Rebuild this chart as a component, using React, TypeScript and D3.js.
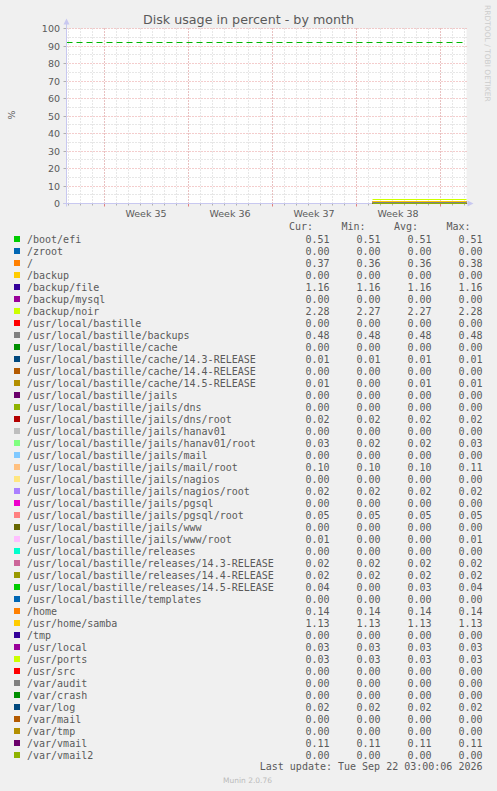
import React from "react";
import * as d3 from "d3";

// --- chart data ---
const LABELS = [
  "/boot/efi", "/zroot", "/", "/backup", "/backup/file", "/backup/mysql", "/backup/noir",
  "/usr/local/bastille", "/usr/local/bastille/backups", "/usr/local/bastille/cache",
  "/usr/local/bastille/cache/14.3-RELEASE", "/usr/local/bastille/cache/14.4-RELEASE",
  "/usr/local/bastille/cache/14.5-RELEASE", "/usr/local/bastille/jails",
  "/usr/local/bastille/jails/dns", "/usr/local/bastille/jails/dns/root",
  "/usr/local/bastille/jails/hanav01", "/usr/local/bastille/jails/hanav01/root",
  "/usr/local/bastille/jails/mail", "/usr/local/bastille/jails/mail/root",
  "/usr/local/bastille/jails/nagios", "/usr/local/bastille/jails/nagios/root",
  "/usr/local/bastille/jails/pgsql", "/usr/local/bastille/jails/pgsql/root",
  "/usr/local/bastille/jails/www", "/usr/local/bastille/jails/www/root",
  "/usr/local/bastille/releases", "/usr/local/bastille/releases/14.3-RELEASE",
  "/usr/local/bastille/releases/14.4-RELEASE", "/usr/local/bastille/releases/14.5-RELEASE",
  "/usr/local/bastille/templates", "/home", "/usr/home/samba", "/tmp", "/usr/local",
  "/usr/ports", "/usr/src", "/var/audit", "/var/crash", "/var/log", "/var/mail",
  "/var/tmp", "/var/vmail", "/var/vmail2",
];
const CUR = [0.51, 0, 0.37, 0, 1.16, 0, 2.28, 0, 0.48, 0, 0.01, 0, 0.01, 0, 0, 0.02, 0, 0.03, 0, 0.1, 0, 0.02, 0, 0.05, 0, 0.01, 0, 0.02, 0.02, 0.04, 0, 0.14, 1.13, 0, 0.03, 0.03, 0, 0, 0, 0.02, 0, 0, 0.11, 0];
const MIN = [0.51, 0, 0.36, 0, 1.16, 0, 2.27, 0, 0.48, 0, 0.01, 0, 0, 0, 0, 0.02, 0, 0.02, 0, 0.1, 0, 0.02, 0, 0.05, 0, 0, 0, 0.02, 0.02, 0, 0, 0.14, 1.13, 0, 0.03, 0.03, 0, 0, 0, 0.02, 0, 0, 0.11, 0];
const AVG = [0.51, 0, 0.36, 0, 1.16, 0, 2.27, 0, 0.48, 0, 0.01, 0, 0.01, 0, 0, 0.02, 0, 0.02, 0, 0.1, 0, 0.02, 0, 0.05, 0, 0, 0, 0.02, 0.02, 0.03, 0, 0.14, 1.13, 0, 0.03, 0.03, 0, 0, 0, 0.02, 0, 0, 0.11, 0];
const MAX = [0.51, 0, 0.38, 0, 1.16, 0, 2.28, 0, 0.48, 0, 0.01, 0, 0.01, 0, 0, 0.02, 0, 0.03, 0, 0.11, 0, 0.02, 0, 0.05, 0, 0.01, 0, 0.02, 0.02, 0.04, 0, 0.14, 1.13, 0, 0.03, 0.03, 0, 0, 0, 0.02, 0, 0, 0.11, 0];
const PALETTE = [
  "#00CC00", "#0066B3", "#FF8000", "#FFCC00", "#330099", "#990099", "#CCFF00", "#FF0000",
  "#808080", "#008F00", "#00487D", "#B35A00", "#B38F00", "#6B006B", "#8FB300", "#B30000",
  "#BEBEBE", "#80FF80", "#80C9FF", "#FFC080", "#FFE680", "#AA80FF", "#EE00CC", "#FF8080",
  "#666600", "#FFBFFF", "#00FFCC", "#CC6699", "#999900",
];
const WARNING = 92;
const Y_TICKS = [0, 10, 20, 30, 40, 50, 60, 70, 80, 90, 100];
const DATA_START = new Date(Date.UTC(2026, 8, 15, 8, 0));
const DATA_END = new Date(Date.UTC(2026, 8, 23, 5, 0));
const GRAPH_END = new Date(Date.UTC(2026, 8, 23, 5, 0));
const LAST_UPDATE = "Last update: Tue Sep 22 03:00:06 2026";

const W = 497;
const H = 791;
const PL = 66.5;
const PR = 466.5;
const PT = 28.5;
const PB = 203.5;
const ROW0 = 239;
const ROWH = 12;
const SANS = "DejaVu Sans, sans-serif";
const MONO = "DejaVu Sans Mono, monospace";
const TXT = "#5A5A5A";
const AXIS = "#C8C8F0";

export default function App() {
  const start = new Date(GRAPH_END.getTime() - (400 / 12) * 86400000);
  const x = d3.scaleUtc().domain([start, GRAPH_END]).range([PL, PR]);
  const y = d3.scaleLinear().domain([0, 100]).range([PB, PT]);
  const snap = (v: number) => Math.round(v - 0.5) + 0.5;

  const days = d3.utcDay.range(d3.utcDay.ceil(start), GRAPH_END);
  const mondays = d3.utcMonday.range(d3.utcMonday.ceil(start), GRAPH_END);
  const weekLabels = d3.utcMonday
    .range(d3.utcMonday.floor(start), GRAPH_END)
    .map((m) => ({ m, cx: x(new Date(m.getTime() + 3.5 * 86400000)) }))
    .filter((d) => d.cx > PL && d.cx < PR);
  const minorY = d3.range(5, 100, 10);

  const line = d3
    .line<{ t: Date; v: number }>()
    .x((d) => snap(x(d.t)))
    .y((d) => snap(y(d.v)));
  const color = (i: number) => PALETTE[i % PALETTE.length];
  const cols = [
    { head: "Cur:", hx: 289, vx: 329.5, vals: CUR },
    { head: "Min:", hx: 341.5, vx: 380.5, vals: MIN },
    { head: "Avg:", hx: 394, vx: 431.5, vals: AVG },
    { head: "Max:", hx: 446.5, vx: 482.5, vals: MAX },
  ];

  return (
    <svg
      width={W}
      height={H}
      style={{ position: "absolute", left: 0, top: 0, display: "block" }}
    >
      <rect width={W} height={H} fill="#F0F0F0" />
      <rect x={PL} y={PT} width={PR - PL} height={PB - PT} fill="#FFFFFF" />

      {/* minor grid */}
      {days.map((d, i) => (
        <line key={"vd" + i} x1={snap(x(d))} x2={snap(x(d))} y1={PT} y2={PB}
          stroke="#CFCFCF" strokeDasharray="1,2" />
      ))}
      {minorY.map((v) => (
        <line key={"hm" + v} x1={PL} x2={PR} y1={snap(y(v))} y2={snap(y(v))}
          stroke="#CFCFCF" strokeDasharray="1,2" />
      ))}
      {/* major grid */}
      {mondays.map((d, i) => (
        <line key={"vm" + i} x1={snap(x(d))} x2={snap(x(d))} y1={PT} y2={PB}
          stroke="#E89A9A" strokeDasharray="1,2" />
      ))}
      {Y_TICKS.map((v) => (
        <line key={"hM" + v} x1={PL} x2={PR} y1={snap(y(v))} y2={snap(y(v))}
          stroke="#E89A9A" strokeDasharray="1,2" />
      ))}

      {/* warning rule */}
      <line x1={PL} x2={PR} y1={snap(y(WARNING))} y2={snap(y(WARNING))}
        stroke="#00B800" strokeDasharray="6,4" strokeWidth={1.2} />

      {/* axes */}
      {days.map((d, i) => (
        <line key={"td" + i} x1={snap(x(d))} x2={snap(x(d))} y1={PB} y2={PB + 2} stroke="#B0B0B0" />
      ))}
      {mondays.map((d, i) => (
        <line key={"tm" + i} x1={snap(x(d))} x2={snap(x(d))} y1={PB} y2={PB + 3} stroke="#E08080" />
      ))}
      {Y_TICKS.map((v) => (
        <line key={"ty" + v} x1={PL - 3} x2={PL} y1={snap(y(v))} y2={snap(y(v))} stroke="#B0B0B0" />
      ))}
      <line x1={PL} x2={PL} y1={PB + 3} y2={PT - 6} stroke={AXIS} />
      <path d={`M${PL - 3},${PT - 4} L${PL},${PT - 10} L${PL + 3},${PT - 4} Z`} fill={AXIS} />
      <line x1={PL - 3} x2={PR + 3} y1={PB} y2={PB} stroke={AXIS} />
      <path d={`M${PR + 1},${PB - 3} L${PR + 7},${PB} L${PR + 1},${PB + 3} Z`} fill={AXIS} />

      {/* series */}
      {LABELS.map((_, i) => (
        <path
          key={"s" + i}
          d={line([{ t: DATA_START, v: AVG[i] }, { t: DATA_END, v: CUR[i] }]) || ""}
          fill="none"
          stroke={color(i)}
          strokeWidth={1}
        />
      ))}

      {/* labels */}
      <text x={W / 2} y={23.5} textAnchor="middle" fontFamily={SANS} fontSize={12.7} fill={TXT}>
        Disk usage in percent - by month
      </text>
      {Y_TICKS.map((v) => (
        <text key={"yl" + v} x={60} y={y(v) + 3.5} textAnchor="end" fontFamily={SANS} fontSize={9.5} fill={TXT}>
          {v}
        </text>
      ))}
      {weekLabels.map((d, i) => (
        <text key={"wl" + i} x={d.cx} y={216.5} textAnchor="middle" fontFamily={SANS} fontSize={9.5} fill={TXT}>
          {"Week " + d3.utcFormat("%V")(d.m)}
        </text>
      ))}
      <text transform={`translate(14.5,115) rotate(-90)`} textAnchor="middle" fontFamily={SANS} fontSize={9.5} fill={TXT}>
        %
      </text>
      <text transform={`translate(484.5,5) rotate(90)`} textAnchor="start" fontFamily={SANS} fontSize={7.5} fill="#CCCCCC">
        RRDTOOL / TOBI OETIKER
      </text>

      {/* legend */}
      {cols.map((c) => (
        <text key={c.head} x={c.hx} y={ROW0 - 12.5 + 3.5} fontFamily={MONO} fontSize={10} fill={TXT}>
          {c.head}
        </text>
      ))}
      {LABELS.map((lab, i) => {
        const cy = ROW0 + i * ROWH;
        return (
          <g key={"lg" + i}>
            <rect x={14} y={cy - 3} width={6} height={6} fill={color(i)} />
            <text x={27} y={cy + 3.5} fontFamily={MONO} fontSize={10} fill={TXT} style={{ whiteSpace: "pre" }}>
              {lab}
            </text>
            {cols.map((c) => (
              <text key={c.head} x={c.vx} y={cy + 3.5} textAnchor="end" fontFamily={MONO} fontSize={10} fill={TXT}>
                {c.vals[i].toFixed(2)}
              </text>
            ))}
          </g>
        );
      })}
      <text x={482.5} y={770} textAnchor="end" fontFamily={MONO} fontSize={10} fill={TXT} style={{ whiteSpace: "pre" }}>
        {LAST_UPDATE}
      </text>
      <text x={247.5} y={782.5} textAnchor="middle" fontFamily={SANS} fontSize={7.5} fill="#BBBBBB">
        Munin 2.0.76
      </text>
    </svg>
  );
}
